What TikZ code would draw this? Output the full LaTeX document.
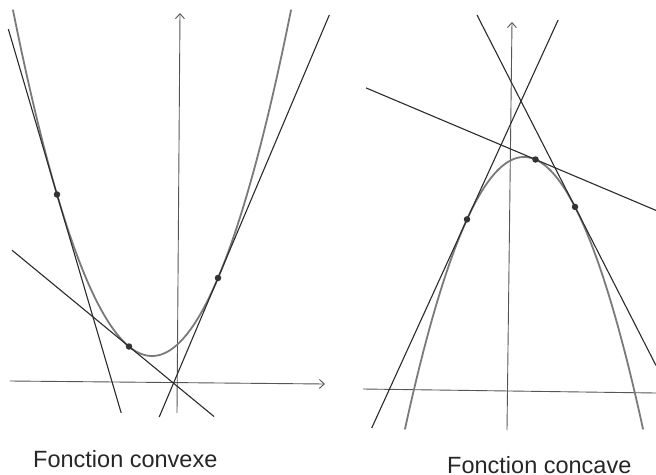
\documentclass[tikz,border=0pt]{standalone}
\usepackage{fontspec}
\setmainfont{Liberation Sans}
\usetikzlibrary{arrows.meta}
\definecolor{curvec}{HTML}{7A7A7A}
\definecolor{tanc}{HTML}{2B2B2B}
\definecolor{axisc}{HTML}{555555}
\definecolor{dotc}{HTML}{333333}
\begin{document}
\begin{tikzpicture}[x=1pt,y=-1pt,
  curveline/.style={draw=curvec,line width=1.8pt,line cap=round},
  tanline/.style={draw=tanc,line width=1.1pt},
  axisline/.style={draw=axisc,line width=0.9pt},
  axisarrow/.style={axisline,-{Straight Barb[length=5pt,width=9pt]}},
  dot/.style={circle,fill=dotc,inner sep=0pt,minimum size=6.5pt},
  caption/.style={anchor=base west,inner sep=0pt,font=\fontsize{23.5}{28}\selectfont,text=black!85}]
\useasboundingbox (0,0) rectangle (656,474);
% ---------- left: convex ----------
\coordinate (LxA) at (10,381);
\coordinate (LxB) at (325,384);
\coordinate (LyA) at (177,413);
\coordinate (LyB) at (180,13);
\draw[axisarrow] (LxA) -- (LxB);
\draw[axisarrow] (LyA) -- (LyB);
\draw[curveline] plot[domain=13:291,samples=120] (\x,{356-((\x-152)*0.13379)^2});
\coordinate (L1a) at (8.3,29);
\coordinate (L1b) at (121.2,413);
\coordinate (L2a) at (12,250.2);
\coordinate (L2b) at (214,416.5);
\coordinate (L3a) at (159.2,417);
\coordinate (L3b) at (329.3,15);
\draw[tanline] (L1a) -- (L1b);
\draw[tanline] (L2a) -- (L2b);
\draw[tanline] (L3a) -- (L3b);
\node[dot] (pL1) at (57,194.5) {};
\node[dot] (pL2) at (129,346.5) {};
\node[dot] (pL3) at (218,278) {};
\node[caption] (capL) at (33,467) {Fonction convexe};
% ---------- right: concave ----------
\coordinate (RxA) at (363,389);
\coordinate (RxB) at (656,393);
\coordinate (RyA) at (507,430);
\coordinate (RyB) at (512,22);
\draw[axisline] (RxA) -- (RxB);
\draw[axisarrow] (RyA) -- (RyB);
\draw[curveline] plot[domain=405:643,samples=120] (\x,{157+((\x-524)*0.138564)^2});
\coordinate (R1a) at (371.7,428);
\coordinate (R1b) at (558.1,20);
\coordinate (R2a) at (366,87.9);
\coordinate (R2b) at (656,210.4);
\coordinate (R3a) at (477,15);
\coordinate (R3b) at (656,365.5);
\draw[tanline] (R1a) -- (R1b);
\draw[tanline] (R2a) -- (R2b);
\draw[tanline] (R3a) -- (R3b);
\node[dot] (pR1) at (467,219.4) {};
\node[dot] (pR2) at (535.5,159.5) {};
\node[dot] (pR3) at (575,206.9) {};
\node[caption] (capR) at (447,473) {Fonction concave};
\end{tikzpicture}
\end{document}
